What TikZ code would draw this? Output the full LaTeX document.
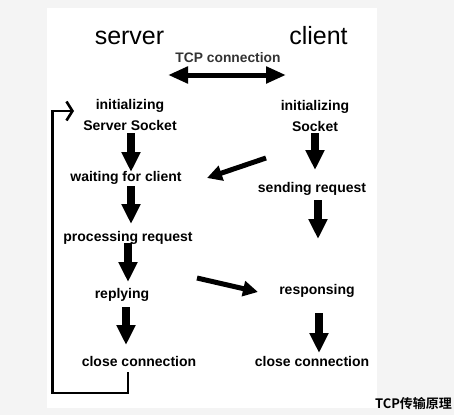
\documentclass[tikz,border=0pt]{standalone}
\usepackage{fontspec}
\setmainfont{Liberation Sans}
\newfontfamily\cjk{Noto Sans CJK SC}[BoldFont={* Bold}]
\usetikzlibrary{arrows.meta}
\definecolor{pagebg}{HTML}{F4F4F4}
\definecolor{tcpgray}{HTML}{333333}
\tikzset{
  lbl/.style={anchor=base, inner sep=0pt, font=\fontsize{14}{14}\selectfont\bfseries},
  head/.style={anchor=base, inner sep=0pt, font=\fontsize{25}{25}\selectfont},
  bigarrow/.style={line width=7.5pt, -{Triangle[length=20pt,width=18pt]}},
  diagarrow/.style={line width=5pt, -{Triangle[length=15pt,width=15pt]}},
  dblarrow/.style={line width=5pt, {Triangle[length=20pt,width=16pt]}-{Triangle[length=20pt,width=16pt]}},
  loopline/.style={line width=2.6pt, -{Straight Barb[length=6pt,width=19pt,line width=2.6pt]}},
}
\begin{document}
\begin{tikzpicture}[x=1pt,y=-1pt]
\useasboundingbox (0,0) rectangle (454,415);
\fill[pagebg] (0,0) rectangle (454,415);
\fill[white] (47,8) rectangle (377,408);
% headings
\node[head] (server) at (129.5,44) {server};
\node[head] (client) at (318.5,44) {client};
\node[lbl, text=tcpgray, font=\fontsize{13.8}{14}\selectfont\bfseries] (tcp) at (228,62.5) {TCP connection};
% left column
\node[lbl] (sinit) at (130,109) {initializing};
\node[lbl] (ssock) at (130,130) {Server Socket};
\node[lbl] (wait) at (126,181) {waiting for client};
\node[lbl] (proc) at (128,241.5) {processing request};
\node[lbl] (reply) at (122,298) {replying};
\node[lbl] (sclose) at (139,366) {close connection};
% right column
\node[lbl] (cinit) at (315,110.5) {initializing};
\node[lbl] (csock) at (315,131) {Socket};
\node[lbl] (send) at (312,192) {sending request};
\node[lbl] (resp) at (317,294) {responsing};
\node[lbl] (cclose) at (312,366) {close connection};
% caption
\node[anchor=base, inner sep=0pt, font=\cjk\bfseries\fontsize{13}{13}\selectfont] (cap) at (413.5,408) {TCP传输原理};
% arrow end points
\coordinate (ta) at (168,75);
\coordinate (tb) at (286,75);
\coordinate (a1s) at (131,133);
\coordinate (a1e) at (131,172);
\coordinate (a2s) at (131,186);
\coordinate (a2e) at (131,224);
\coordinate (a3s) at (128,243);
\coordinate (a3e) at (128,282);
\coordinate (a4s) at (126,307);
\coordinate (a4e) at (126,345);
\coordinate (b1s) at (315,133);
\coordinate (b1e) at (315,170);
\coordinate (b2s) at (318,200);
\coordinate (b2e) at (318,239);
\coordinate (b3s) at (319,313);
\coordinate (b3e) at (319,353);
\coordinate (d1s) at (266,158);
\coordinate (d1e) at (207,178);
\coordinate (d2s) at (197,278);
\coordinate (d2e) at (258,292);
\coordinate (l0) at (128,372);
\coordinate (l1) at (128,393);
\coordinate (l2) at (52.5,393);
\coordinate (l3) at (52.5,111);
\coordinate (l4) at (74,111);
% connectors
\draw[dblarrow] (ta) -- (tb);
\draw[bigarrow] (a1s) -- (a1e);
\draw[bigarrow] (a2s) -- (a2e);
\draw[bigarrow] (a3s) -- (a3e);
\draw[bigarrow] (a4s) -- (a4e);
\draw[bigarrow] (b1s) -- (b1e);
\draw[bigarrow] (b2s) -- (b2e);
\draw[bigarrow] (b3s) -- (b3e);
\draw[diagarrow] (d1s) -- (d1e);
\draw[diagarrow] (d2s) -- (d2e);
\draw[loopline] (l0) -- (l1) -- (l2) -- (l3) -- (l4);
\end{tikzpicture}
\end{document}
